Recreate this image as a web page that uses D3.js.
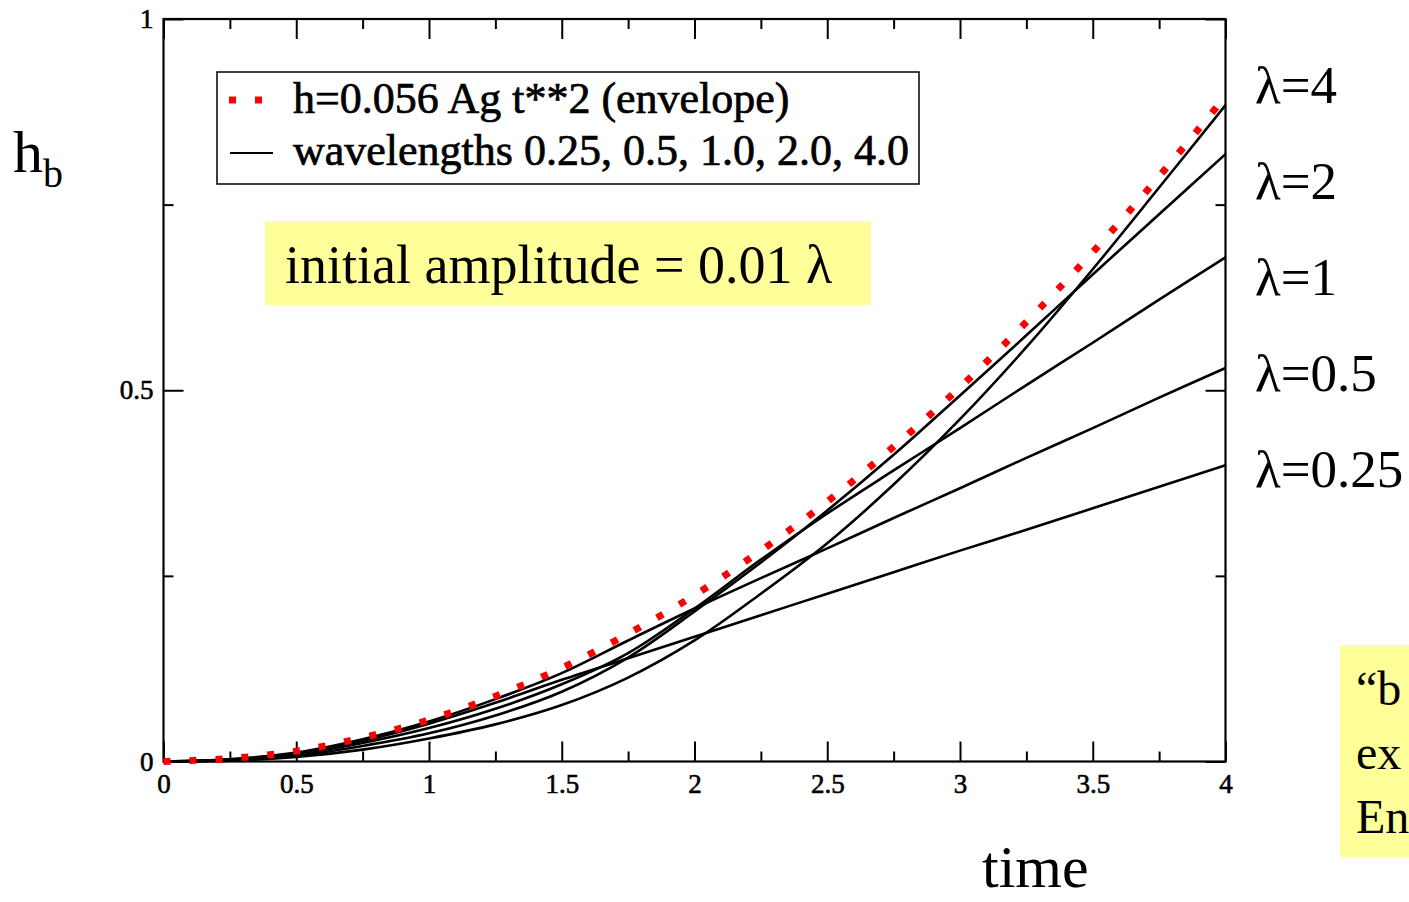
<!DOCTYPE html>
<html>
<head>
<meta charset="utf-8">
<script src="https://cdn.jsdelivr.net/npm/d3@7"></script>
<style>
  body { margin: 0; background: #fff; }
  svg { display: block; font-family: "Liberation Serif", "Times New Roman", serif; }
</style>
</head>
<body>
<div id="chart"></div>
<script>
// time samples
const times = [0, 0.25, 0.5, 0.75, 1, 1.25, 1.5, 1.75, 2, 2.25, 2.5, 2.75, 3, 3.25, 3.5, 3.75, 4];

// red dotted envelope
const envelope = [0, 0.004, 0.014, 0.032, 0.056, 0.088, 0.126, 0.172, 0.224, 0.284, 0.35, 0.424, 0.504, 0.592, 0.686, 0.788, 0.896];

// black curves, one per wavelength
const wave025 = [0, 0.003, 0.011, 0.028, 0.051, 0.079, 0.110, 0.139, 0.168, 0.197, 0.226, 0.255, 0.284, 0.312, 0.341, 0.370, 0.399];
const wave05  = [0, 0.003, 0.012, 0.030, 0.054, 0.084, 0.119, 0.163, 0.206, 0.247, 0.287, 0.328, 0.368, 0.409, 0.449, 0.490, 0.530];
const wave1   = [0, 0.002, 0.010, 0.025, 0.045, 0.071, 0.104, 0.146, 0.206, 0.272, 0.334, 0.392, 0.449, 0.507, 0.564, 0.622, 0.679];
const wave2   = [0, 0.002, 0.008, 0.021, 0.038, 0.062, 0.094, 0.140, 0.202, 0.268, 0.338, 0.413, 0.493, 0.574, 0.656, 0.737, 0.818];
const wave4   = [0, 0.001, 0.006, 0.016, 0.031, 0.050, 0.076, 0.113, 0.163, 0.226, 0.294, 0.373, 0.461, 0.558, 0.663, 0.773, 0.884];

const xTicks = [0, 0.5, 1, 1.5, 2, 2.5, 3, 3.5, 4];
const xTickLabels = ["0", "0.5", "1", "1.5", "2", "2.5", "3", "3.5", "4"];
const yTicks = [0, 0.5, 1];
const yTickLabels = ["0", "0.5", "1"];

const legendLabels = ["h=0.056 Ag t**2 (envelope)", "wavelengths 0.25, 0.5, 1.0, 2.0, 4.0"];
const curveLabels = ["λ=4", "λ=2", "λ=1", "λ=0.5", "λ=0.25"];
const noteText = "initial amplitude = 0.01 λ";
const sideNote = ["“b", "ex", "En"];

const width = 1409, height = 902;
const margin = {top: 19, right: 183.5, bottom: 140.5, left: 163.5};

const svg = d3.select("#chart").append("svg")
    .attr("width", width)
    .attr("height", height)
    .attr("viewBox", [0, 0, width, height]);

const x = d3.scaleLinear([0, 4], [margin.left, width - margin.right]);
const y = d3.scaleLinear([0, 1], [height - margin.bottom, margin.top]);

const line = d3.line()
    .x((d, i) => x(times[i]))
    .y(d => y(d))
    .curve(d3.curveCatmullRom.alpha(0.5));

// axes: ticks point inward on all four sides
function styleAxis(g) {
    g.attr("font-family", null).attr("font-size", null);
    g.select(".domain").remove();
    g.selectAll(".tick line").attr("stroke", "#000").attr("stroke-width", 2);
    g.selectAll(".tick text")
        .attr("fill", "#000")
        .attr("stroke", "#000")
        .attr("stroke-width", 0.6)
        .style("font-size", "27px");
}

const xMinor = d3.range(0.25, 4, 0.5);
const yMinor = d3.range(0.25, 1, 0.5);

svg.append("g")
    .attr("transform", `translate(0,${y(0)})`)
    .call(d3.axisBottom(x).tickValues(xTicks).tickFormat((d, i) => xTickLabels[i]).tickSize(-20).tickPadding(12))
    .call(styleAxis);
svg.append("g")
    .attr("transform", `translate(0,${y(0)})`)
    .call(d3.axisBottom(x).tickValues(xMinor).tickFormat("").tickSize(-10))
    .call(styleAxis);
svg.append("g")
    .attr("transform", `translate(0,${y(1)})`)
    .call(d3.axisTop(x).tickValues(xTicks).tickFormat("").tickSize(-20))
    .call(styleAxis);
svg.append("g")
    .attr("transform", `translate(0,${y(1)})`)
    .call(d3.axisTop(x).tickValues(xMinor).tickFormat("").tickSize(-10))
    .call(styleAxis);

svg.append("g")
    .attr("transform", `translate(${x(0)},0)`)
    .call(d3.axisLeft(y).tickValues(yTicks).tickFormat((d, i) => yTickLabels[i]).tickSize(-20).tickPadding(10))
    .call(styleAxis);
svg.append("g")
    .attr("transform", `translate(${x(0)},0)`)
    .call(d3.axisLeft(y).tickValues(yMinor).tickFormat("").tickSize(-10))
    .call(styleAxis);
svg.append("g")
    .attr("transform", `translate(${x(4)},0)`)
    .call(d3.axisRight(y).tickValues(yTicks).tickFormat("").tickSize(-20))
    .call(styleAxis);
svg.append("g")
    .attr("transform", `translate(${x(4)},0)`)
    .call(d3.axisRight(y).tickValues(yMinor).tickFormat("").tickSize(-10))
    .call(styleAxis);

// frame
svg.append("rect")
    .attr("x", x(0)).attr("y", y(1))
    .attr("width", x(4) - x(0)).attr("height", y(0) - y(1))
    .attr("fill", "none").attr("stroke", "#000").attr("stroke-width", 2.2);

// curves
const waves = [wave025, wave05, wave1, wave2, wave4];
svg.append("g")
    .selectAll("path")
    .data(waves)
    .join("path")
    .attr("d", line)
    .attr("fill", "none")
    .attr("stroke", "#000")
    .attr("stroke-width", 2.6);

svg.append("path")
    .attr("d", line(envelope))
    .attr("fill", "none")
    .attr("stroke", "#ff0000")
    .attr("stroke-width", 7)
    .attr("stroke-dasharray", "7,19");

// legend
const legend = svg.append("g");
legend.append("rect")
    .attr("x", 217).attr("y", 72).attr("width", 702).attr("height", 112)
    .attr("fill", "#fff").attr("stroke", "#000").attr("stroke-width", 1.5);
legend.append("line")
    .attr("x1", 229).attr("x2", 263).attr("y1", 100).attr("y2", 100)
    .attr("stroke", "#ff0000").attr("stroke-width", 7).attr("stroke-dasharray", "7,19");
legend.append("line")
    .attr("x1", 230).attr("x2", 273).attr("y1", 153).attr("y2", 153)
    .attr("stroke", "#000").attr("stroke-width", 2.2);
legend.selectAll("text")
    .data(legendLabels)
    .join("text")
    .attr("x", 293)
    .attr("y", (d, i) => 113 + i * 52)
    .attr("stroke", "#000")
    .attr("stroke-width", 0.7)
    .style("font-size", "44px")
    .text(d => d);

// yellow note
svg.append("rect")
    .attr("x", 265).attr("y", 221).attr("width", 606).attr("height", 84)
    .attr("fill", "#ffff99");
svg.append("text")
    .attr("x", 285).attr("y", 283)
    .style("font-size", "54px")
    .text(noteText);

// curve labels on the right
svg.append("g")
    .selectAll("text")
    .data(curveLabels)
    .join("text")
    .attr("x", 1255)
    .attr("y", (d, i) => 103 + i * 96)
    .style("font-size", "53px")
    .text(d => d);

// axis titles
const yTitle = svg.append("text").attr("x", 13).attr("y", 172).style("font-size", "60px");
yTitle.append("tspan").text("h");
yTitle.append("tspan").attr("dy", 15).style("font-size", "40px").text("b");

svg.append("text")
    .attr("x", 982).attr("y", 887)
    .style("font-size", "60px")
    .text("time");

// note cut by the right edge
svg.append("rect")
    .attr("x", 1340).attr("y", 645).attr("width", width - 1340).attr("height", 212)
    .attr("fill", "#ffff99");
svg.append("g")
    .selectAll("text")
    .data(sideNote)
    .join("text")
    .attr("x", 1356)
    .attr("y", (d, i) => 705 + i * 64)
    .style("font-size", "48px")
    .text(d => d);
</script>
</body>
</html>
